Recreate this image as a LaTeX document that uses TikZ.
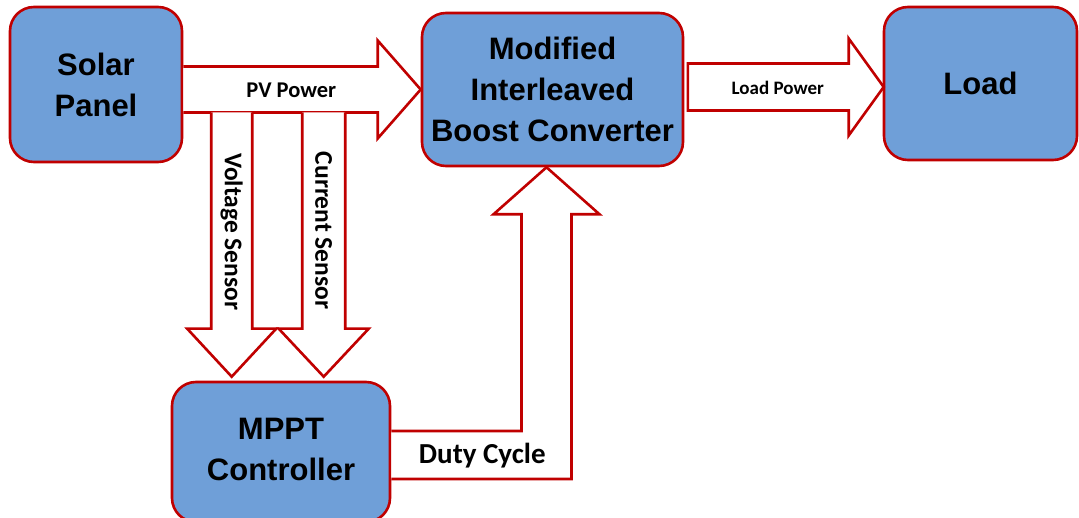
\documentclass[tikz,border=0pt]{standalone}
\usepackage{fontspec}
\setmainfont{Liberation Sans}
\newfontfamily\calibri{Carlito}
\usetikzlibrary{calc}

\definecolor{boxblue}{HTML}{6F9FD8}
\definecolor{boxred}{HTML}{C00000}

\begin{document}
\begin{tikzpicture}[x=1pt,y=-1pt,
    block/.style={draw=boxred, line width=2.6pt, fill=boxblue, rounded corners=24pt,
      align=center, font=\bfseries\fontsize{31}{41}\selectfont},
    flow/.style={draw=boxred, line width=2.6pt, fill=white, line join=miter},
    lbl/.style={font=\calibri\bfseries\fontsize{#1}{24}\selectfont},
    lbl/.default=22.5]
  \useasboundingbox (0,0) rectangle (1079,518);

  % blocks
  \node[block, minimum width=172pt, minimum height=155pt] (solar) at (96,84.5) {Solar\\Panel};
  \node[block, minimum width=261pt, minimum height=153pt] (conv) at (552.5,89.5) {Modified\\Interleaved\\Boost Converter};
  \node[block, minimum width=193pt, minimum height=153pt] (load) at (980.5,83.5) {Load};
  \node[block, minimum width=218pt, minimum height=140pt, text depth=6pt] (mppt) at (281,452) {MPPT\\Controller};

  % PV power
  \coordinate (pvtail) at (solar.east |- conv.west);
  \draw[flow] ($(pvtail)+(0,-23)$) -- ($(conv.west)+(-43,-23)$) -- ($(conv.west)+(-43,-49)$)
    -- (conv.west) -- ($(conv.west)+(-43,49)$) -- ($(conv.west)+(-43,23)$) -- ($(pvtail)+(0,23)$);
  \node[lbl] (pvlbl) at ($(pvtail)+(108,1)$) {PV Power};

  % sensors
  \coordinate (vtip) at ($(mppt.north west)+(61,-4)$);
  \coordinate (ctip) at ($(mppt.north west)+(153,-4)$);
  \draw[flow] ($(vtip |- pvtail)+(-20.5,23)$) -- ($(vtip)+(-20.5,-48)$) -- ($(vtip)+(-44.5,-48)$)
    -- (vtip) -- ($(vtip)+(44.5,-48)$) -- ($(vtip)+(20.5,-48)$) -- ($(vtip |- pvtail)+(20.5,23)$);
  \draw[flow] ($(ctip |- pvtail)+(-21.5,23)$) -- ($(ctip)+(-21.5,-48)$) -- ($(ctip)+(-45,-48)$)
    -- (ctip) -- ($(ctip)+(45,-48)$) -- ($(ctip)+(21.5,-48)$) -- ($(ctip |- pvtail)+(21.5,23)$);
  \node[lbl=25.5, rotate=-90] (vlbl) at ($(vtip)+(0,-145)$) {Voltage Sensor};
  \node[lbl=25.5, rotate=-90] (clbl) at ($(ctip)+(0,-146)$) {Current Sensor};

  % duty cycle
  \coordinate (dtip) at ($(conv.south)+(-6,0)$);
  \draw[flow] ($(mppt.east)+(0,-21)$) -- ($(dtip |- mppt.east)+(-25,-21)$) -- ($(dtip)+(-25,47)$)
    -- ($(dtip)+(-53,47)$) -- (dtip) -- ($(dtip)+(53,47)$) -- ($(dtip)+(25,47)$)
    -- ($(dtip |- mppt.east)+(25,27)$) -- ($(mppt.east)+(0,27)$);
  \node[lbl=29] (dlbl) at ($(mppt.east)+(91,4)$) {Duty Cycle};

  % load power
  \coordinate (ltip) at ($(load.west)+(1,3.5)$);
  \coordinate (ltail) at ($(conv.east |- ltip)+(3.5,0)$);
  \draw[flow] ($(ltail)+(0,-23.5)$) -- ($(ltip)+(-35,-23.5)$) -- ($(ltip)+(-35,-48.5)$)
    -- (ltip) -- ($(ltip)+(-35,48.5)$) -- ($(ltip)+(-35,23.5)$) -- ($(ltail)+(0,23.5)$) -- cycle;
  \node[lbl=19] (llbl) at ($(ltail)+(90,1)$) {Load Power};
\end{tikzpicture}
\end{document}
